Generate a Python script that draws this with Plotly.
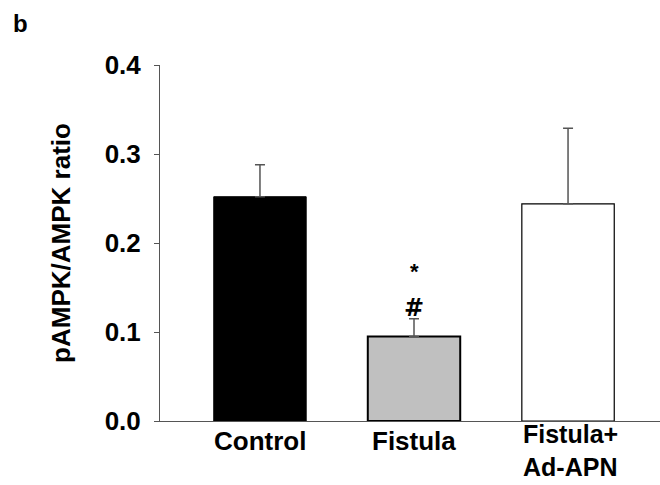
import plotly.graph_objects as go

categories = ["Control", "Fistula", "Fistula+<br>Ad-APN"]
means = [0.252, 0.095, 0.244]
sems = [0.036, 0.020, 0.085]
fill_colors = ["#000000", "#c0c0c0", "#ffffff"]
line_widths = [1, 2, 1.2]
y_ticks = [0.0, 0.1, 0.2, 0.3, 0.4]
y_ticktext = ["0.0", "0.1", "0.2", "0.3", "0.4"]

FONT = "Liberation Sans, Arial, sans-serif"
xpos = list(range(len(categories)))

fig = go.Figure()
fig.add_trace(go.Bar(
    x=xpos, y=means, width=0.6,
    marker=dict(color=fill_colors, line=dict(color="#000000", width=line_widths)),
    error_y=dict(type="data", symmetric=False, array=sems, arrayminus=[0, 0, 0],
                 color="#555555", thickness=1.5, width=5),
    showlegend=False, hoverinfo="skip",
))

fig.update_layout(
    width=660, height=485,
    margin=dict(l=160, r=0, t=65, b=64),
    paper_bgcolor="white", plot_bgcolor="white",
    font=dict(family=FONT, color="black"),
    xaxis=dict(range=[-0.649, 2.597], showticklabels=False, ticks="",
               showline=True, linecolor="#555555", linewidth=1,
               showgrid=False, zeroline=False, fixedrange=True),
    yaxis=dict(range=[0, 0.4], tickvals=y_ticks, ticktext=y_ticktext,
               ticks="outside", ticklen=5, tickcolor="#555555", tickwidth=1,
               showline=True, linecolor="#555555", linewidth=1,
               showgrid=False, zeroline=False,
               tickfont=dict(family=FONT, size=26, color="black", weight="bold"),
               ticklabelstandoff=8,
               title=dict(text="<b>pAMPK/AMPK ratio</b>", font=dict(family=FONT, size=26),
                          standoff=26)),
)

# category labels
for i, c in enumerate(categories):
    if "<br>" in c:
        fig.add_annotation(x=i - 0.3, xanchor="left", y=0, yref="y", yanchor="top",
                           yshift=2, text="<b>" + c + "</b>", align="left",
                           showarrow=False, font=dict(family=FONT, size=25),
                           borderpad=0)
    else:
        fig.add_annotation(x=i, xanchor="center", y=0, yref="y", yanchor="top",
                           yshift=-3, text="<b>" + c + "</b>",
                           showarrow=False, font=dict(family=FONT, size=26))

# significance marks above Fistula
fig.add_annotation(x=1, y=means[1] + sems[1], yanchor="bottom", yshift=-5,
                   text="<b>#</b>", showarrow=False,
                   font=dict(family="DejaVu Sans, Liberation Sans", size=24))
fig.add_annotation(x=1, y=means[1] + sems[1], yanchor="bottom", yshift=33,
                   text="<b>*</b>", showarrow=False, font=dict(family=FONT, size=22))

# panel letter
fig.add_annotation(xref="paper", yref="paper", x=-160/500 + 11/500, xanchor="left",
                   y=1 + (65 - 24)/356, yanchor="middle", text="<b>b</b>",
                   showarrow=False, font=dict(family=FONT, size=24))

fig.write_html("out.html")
